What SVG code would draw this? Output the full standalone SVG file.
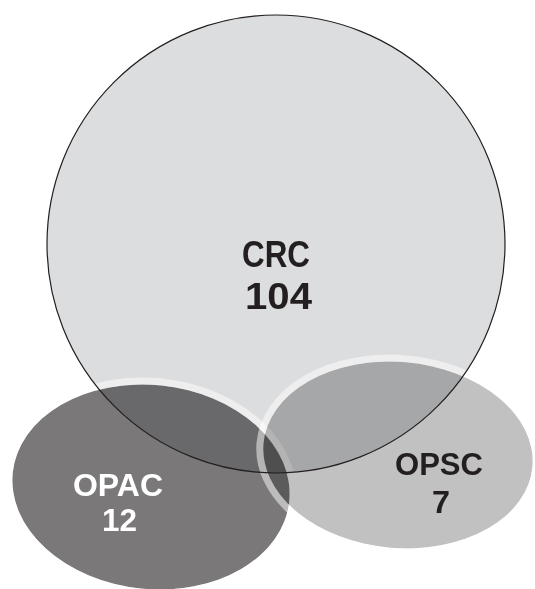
<svg xmlns="http://www.w3.org/2000/svg" width="535" height="589" viewBox="0 0 535 589">
<style>
.lbl{font-family:"Liberation Sans",Arial,sans-serif;font-weight:700;text-anchor:middle}
.dark{fill:#231f20}
.light{fill:#ffffff}
.mult{mix-blend-mode:multiply}
.ring{fill:none;stroke:#ffffff;stroke-opacity:0.5;stroke-width:7}
</style>
<rect width="535" height="589" fill="#ffffff"/>
<g id="crc">
<circle cx="276" cy="244" r="229" fill="#dcdddf"/>
</g>
<g id="opac">
<ellipse class="mult" cx="151" cy="487" rx="139" ry="102" transform="rotate(6 151 487)" fill="#7a7879"/>
<ellipse class="ring" cx="151" cy="487" rx="142.5" ry="105.5" transform="rotate(6 151 487)"/>
</g>
<g id="opsc">
<ellipse class="mult" cx="398" cy="455" rx="135" ry="93" transform="rotate(5 398 455)" fill="#c1c1c1"/>
<ellipse class="ring" cx="398" cy="455" rx="138.5" ry="96.5" transform="rotate(5 398 455)"/>
</g>
<g id="crc-outline">
<circle cx="276" cy="244" r="229" fill="none" stroke="#231f20" stroke-width="1.2"/>
</g>
<g id="labels">
<text class="lbl dark" font-size="37"><tspan x="276" y="267" textLength="68" lengthAdjust="spacingAndGlyphs">CRC</tspan><tspan x="278.5" y="309" textLength="67" lengthAdjust="spacingAndGlyphs">104</tspan></text>
<text class="lbl light" font-size="31"><tspan x="118" y="496" textLength="90" lengthAdjust="spacingAndGlyphs">OPAC</tspan><tspan x="119.5" y="531" textLength="35" lengthAdjust="spacingAndGlyphs">12</tspan></text>
<text class="lbl dark" font-size="31"><tspan x="439" y="475" textLength="88" lengthAdjust="spacingAndGlyphs">OPSC</tspan><tspan x="441" y="513" textLength="18" lengthAdjust="spacingAndGlyphs">7</tspan></text>
</g>
</svg>
